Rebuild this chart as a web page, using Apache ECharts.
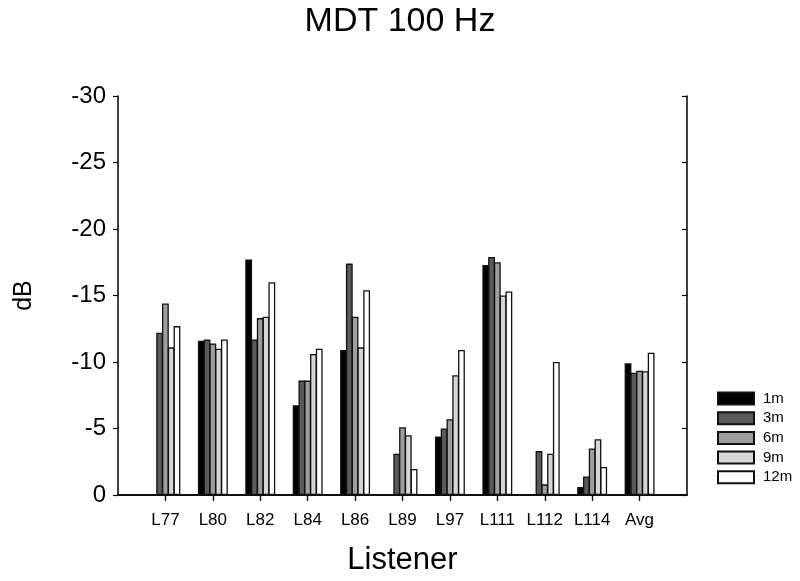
<!DOCTYPE html>
<html>
<head>
<meta charset="utf-8">
<script src="https://cdn.jsdelivr.net/npm/echarts@6/dist/echarts.min.js"></script>
<style>html,body{margin:0;padding:0;background:#fff;}#c{width:800px;height:581px;}</style>
</head>
<body>
<div id="c"></div>
<script>
const categories = ['L77','L80','L82','L84','L86','L89','L97','L111','L112','L114','Avg'];
const seriesNames = ['1m','3m','6m','9m','12m'];
const s1m  = [null, -11.6, -17.7, -6.75, -10.9, null, -4.4, -17.3, null, -0.6, -9.9];
const s3m  = [-12.2, -11.7, -11.7, -8.6, -17.4, -3.1, -5.0, -17.9, -3.3, -1.4, -9.2];
const s6m  = [-14.4, -11.4, -13.3, -8.6, -13.4, -5.1, -5.7, -17.5, -0.8, -3.5, -9.35];
const s9m  = [-11.1, -11.0, -13.4, -10.6, -11.1, -4.5, -9.0, -15.0, -3.1, -4.2, -9.3];
const s12m = [-12.7, -11.7, -16.0, -11.0, -15.4, -1.95, -10.9, -15.3, -10.0, -2.1, -10.7];
const colors = ['#000000','#5a5a5a','#9e9e9e','#d6d6d6','#ffffff'];
const yTicks = {min: -30, max: 0, interval: 5};

const allData = [s1m, s3m, s6m, s9m, s12m];
const xCats = [''].concat(categories, ['']);
const pad = arr => [null].concat(arr, [null]);
const FONT = 'Liberation Sans, Arial, sans-serif';
const lastIdx = xCats.length - 1;

const chart = echarts.init(document.getElementById('c'), null, {renderer: 'canvas'});
chart.setOption({
  animation: false,
  backgroundColor: '#fff',
  textStyle: {fontFamily: FONT},
  title: {
    text: 'MDT 100 Hz', left: 'center', top: 5, padding: 0,
    textStyle: {fontSize: 34, fontWeight: 'normal', color: '#000', fontFamily: FONT}
  },
  legend: {
    data: seriesNames, orient: 'vertical', left: 717, top: 391,
    itemWidth: 36, itemHeight: 12, itemGap: 4.7, icon: 'rect', padding: 0,
    textStyle: {fontSize: 15, color: '#000', fontFamily: FONT, padding: [0,0,0,4]}
  },
  grid: {left: 118, right: 113, top: 96, bottom: 85, containLabel: false},
  xAxis: [{
    type: 'category', data: xCats, boundaryGap: false, position: 'bottom',
    name: 'Listener', nameLocation: 'middle', nameGap: 50,
    nameTextStyle: {fontSize: 31, color: '#000', fontFamily: FONT},
    axisLine: {lineStyle: {color: '#000', width: 1.5}},
    axisTick: {length: 6, lineStyle: {color: '#000', width: 1.2}, interval: (i) => i > 0 && i < lastIdx},
    axisLabel: {fontSize: 17, color: '#000', margin: 17, fontFamily: FONT, interval: 0},
    splitLine: {show: false}
  }, {
    type: 'category', data: xCats, boundaryGap: false, position: 'top',
    axisLine: {lineStyle: {color: '#000', width: 1.5}},
    axisTick: {inside: true, length: 5, lineStyle: {color: '#000', width: 1.2}, interval: (i) => i > 0 && i < lastIdx},
    axisLabel: {show: false},
    splitLine: {show: false}
  }],
  yAxis: [{
    type: 'value', min: yTicks.min, max: yTicks.max, interval: yTicks.interval, inverse: true, position: 'left',
    name: 'dB', nameLocation: 'middle', nameGap: 81, nameRotate: 90,
    nameTextStyle: {fontSize: 25, color: '#000', fontFamily: FONT},
    axisLine: {show: true, lineStyle: {color: '#000', width: 1.5}},
    axisTick: {show: true, length: 5, lineStyle: {color: '#000', width: 1.2}},
    axisLabel: {fontSize: 24, color: '#000', margin: 12, fontFamily: FONT},
    splitLine: {show: false}
  }, {
    type: 'value', min: yTicks.min, max: yTicks.max, interval: yTicks.interval, inverse: true, position: 'right',
    axisLine: {show: true, lineStyle: {color: '#000', width: 1.5}},
    axisTick: {show: true, inside: true, length: 5, lineStyle: {color: '#000', width: 1.2}},
    axisLabel: {show: false},
    splitLine: {show: false}
  }],
  series: seriesNames.map((n, k) => ({
    name: n, type: 'bar', xAxisIndex: 0, yAxisIndex: 0,
    data: pad(allData[k]),
    barWidth: 6.8, barGap: '-15%',
    itemStyle: {color: colors[k], borderColor: '#111', borderWidth: 1.3},
    emphasis: {disabled: true}
  }))
});
</script>
</body>
</html>
